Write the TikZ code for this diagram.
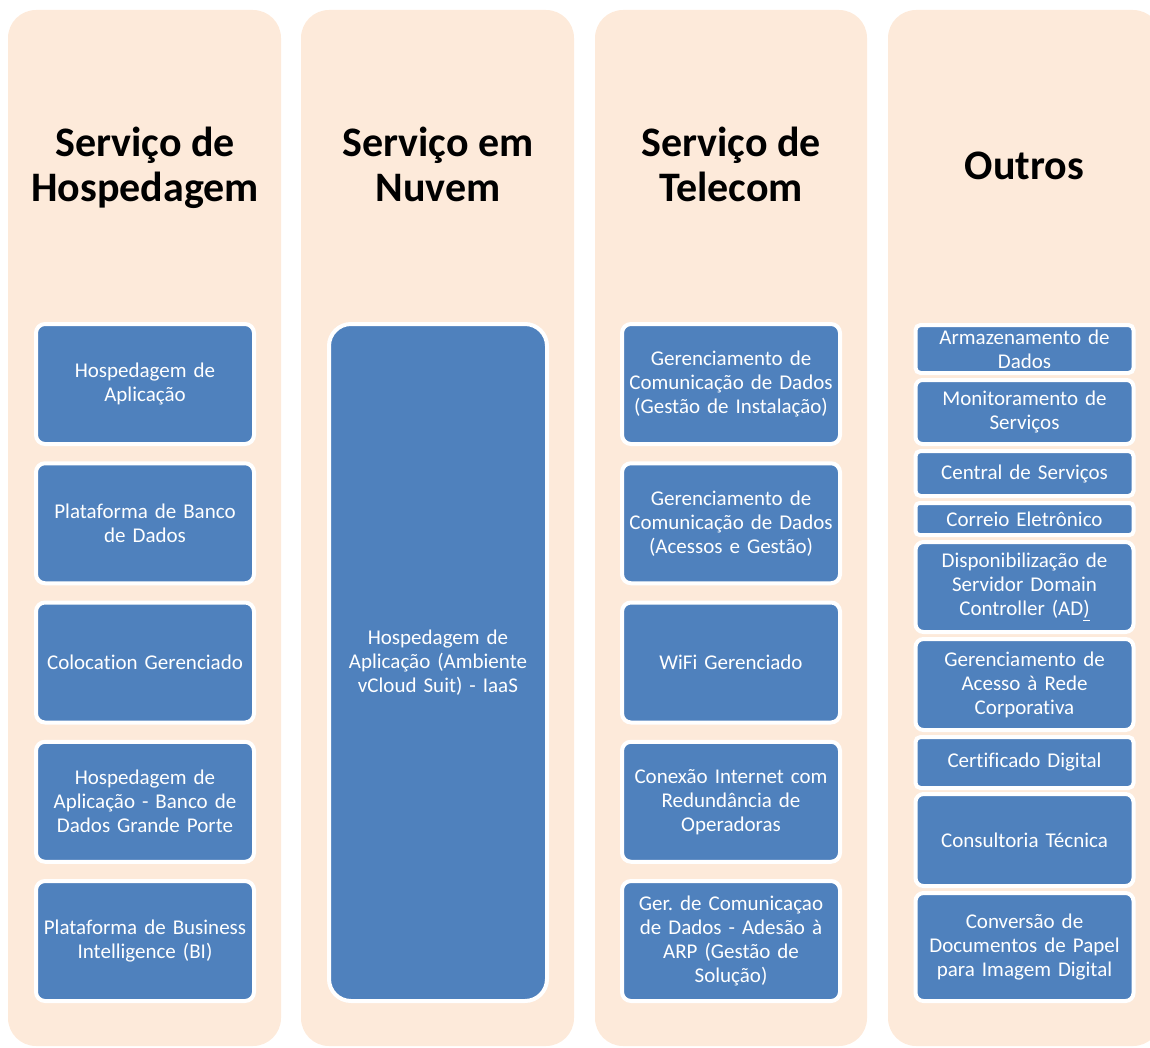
\documentclass[tikz,border=0pt]{standalone}
\usepackage{fontspec}
\setmainfont{Carlito}[Ligatures=NoCommon]
\frenchspacing
\definecolor{peach}{HTML}{FDEADA}
\definecolor{officeblue}{HTML}{4F81BD}
\tikzset{
  colbg/.style={fill=peach, draw=none, rounded corners=28pt},
  title/.style={font=\bfseries\fontsize{42}{45}\selectfont, align=center, text=black, inner sep=0pt},
  svc/.style={fill=officeblue, draw=white, line width=4pt, rounded corners=9pt,
    text=white, font=\fontsize{21}{24}\selectfont, align=center, inner sep=0pt,
    minimum width=218pt, text width=210pt},
}
\begin{document}
\begin{tikzpicture}[x=1pt,y=-1pt]
\useasboundingbox (0,0) rectangle (1150,1048);
\clip (0,0) rectangle (1150,1048);
% column backgrounds
\path[colbg] (8,10) rectangle (281,1046);
\path[colbg] (301,10) rectangle (574,1046);
\path[colbg] (595,10) rectangle (867,1046);
\path[colbg] (888,10) rectangle (1161,1046);
% titles
\node[title] (t1) at (145,170.5) {\strut Serviço de\\\strut Hospedagem};
\node[title] (t2) at (438,170.5) {\strut Serviço em\\\strut Nuvem};
\node[title] (t3) at (731,170.5) {\strut Serviço de\\\strut Telecom};
\node[title, anchor=base] (t4) at (1024.5,180) {Outros};
% column 1
\node[svc, minimum height=120pt] (a1) at (145,384) {Hospedagem de\\Aplicação};
\node[svc, minimum height=120pt] (a2) at (145,523.25) {Plataforma de Banco\\de Dados};
\node[svc, minimum height=120pt] (a3) at (145,662.5) {Colocation Gerenciado};
\node[svc, minimum height=120pt] (a4) at (145,801.75) {Hospedagem de\\Aplicação - Banco de\\Dados Grande Porte};
\node[svc, minimum height=120pt] (a5) at (145,941) {Plataforma de Business\\Intelligence (BI)};
% column 2
\node[svc, minimum height=677pt, rounded corners=22pt] (b1) at (438,662.5) {Hospedagem de\\Aplicação (Ambiente\\vCloud Suit) - IaaS};
% column 3
\node[svc, minimum height=120pt] (c1) at (731,384) {Gerenciamento de\\Comunicação de Dados\\(Gestão de Instalação)};
\node[svc, minimum height=120pt] (c2) at (731,523.25) {Gerenciamento de\\Comunicação de Dados\\(Acessos e Gestão)};
\node[svc, minimum height=120pt] (c3) at (731,662.5) {WiFi Gerenciado};
\node[svc, minimum height=120pt] (c4) at (731,801.75) {Conexão Internet com\\Redundância de\\Operadoras};
\node[svc, minimum height=120pt] (c5) at (731,941) {Ger. de Comunicaçao\\de Dados - Adesão à\\ARP (Gestão de\\Solução)};
% column 4
\node[svc, minimum height=48pt, rounded corners=5pt] (d1) at (1024.5,349) {Armazenamento de\\Dados};
\node[svc, minimum height=64pt, rounded corners=7pt] (d2) at (1024.5,412) {Monitoramento de\\Serviços};
\node[svc, minimum height=45pt, rounded corners=5pt] (d3) at (1024.5,473.5) {Central de Serviços};
\node[svc, minimum height=32pt, rounded corners=4pt] (d4) at (1024.5,519) {Correio Eletrônico};
\node[svc, minimum height=90pt, rounded corners=8pt] (d5) at (1024.5,587) {Disponibilização de\\Servidor Domain\\Controller (AD\underline{)}};
\node[svc, minimum height=91pt, rounded corners=8pt] (d6) at (1024.5,684.5) {Gerenciamento de\\Acesso à Rede\\Corporativa};
\node[svc, minimum height=51pt, rounded corners=5pt] (d7) at (1024.5,762.5) {Certificado Digital};
\node[svc, minimum height=92pt, rounded corners=8pt] (d8) at (1024.5,840) {Consultoria Técnica};
\node[svc, minimum height=108pt, rounded corners=8pt] (d9) at (1024.5,947) {Conversão de\\Documentos de Papel\\para Imagem Digital};
\end{tikzpicture}
\end{document}
